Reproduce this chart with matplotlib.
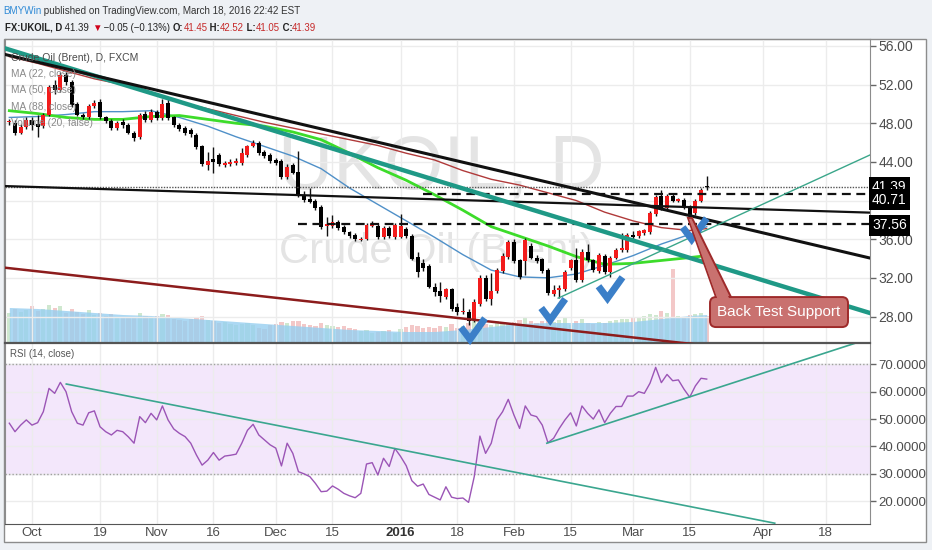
# UKOIL daily chart with MAs, volume, RSI and trend line drawings
import numpy as np
import pandas as pd
import matplotlib
matplotlib.use('Agg')
import matplotlib.pyplot as plt
from matplotlib.patches import Rectangle, FancyBboxPatch, Polygon
from matplotlib.transforms import IdentityTransform

plt.rcParams['font.family'] = ['Liberation Sans Narrow', 'Liberation Sans', 'DejaVu Sans']

# trading days on the chart (no bars for Christmas and New Year)
days = pd.bdate_range('2015-09-25', '2016-05-06')
days = days[~days.isin(pd.to_datetime(['2015-12-25', '2016-01-01']))]

# daily candles, Sep 25 2015 .. Mar 18 2016 (one row per week)
opens = [48.1, 48.0, 47.0, 47.6, 48.3, 47.9,
         47.7, 48.9, 52.0, 51.4, 53.0,
         52.3, 50.0, 48.9, 48.6, 49.8,
         50.2, 48.6, 48.2, 47.5, 48.1,
         47.8, 47.0, 46.6, 49.0, 48.3,
         49.2, 48.5, 50.1, 48.6, 47.8,
         47.5, 47.3, 46.8, 45.6, 43.7,
         44.3, 44.7, 43.7, 43.8, 43.9,
         43.9, 44.7, 45.6, 46.0, 45.0,
         44.7, 44.2, 44.1, 42.4, 43.7,
         43.0, 40.6, 40.2, 40.0, 39.3,
         37.4, 37.4, 37.8, 37.3, 36.7,
         36.4, 35.95, 36.0, 37.4,
         37.4, 36.2, 37.2, 36.2,
         36.2, 37.1, 36.3, 34.2, 33.5,
         33.2, 31.1, 30.6, 30.0, 30.8,
         29.0, 28.45, 28.5, 27.6, 29.3,
         32.0, 29.8, 30.6, 32.7, 34.2,
         35.7, 33.8, 33.7, 35.3, 34.1,
         33.9, 32.8, 30.3, 30.7, 30.8,
         33.0, 33.8, 31.8, 34.7, 33.8,
         32.7, 34.3, 32.6, 34.1, 34.85,
         34.9, 36.45, 36.3, 36.6, 36.7,
         38.6, 40.5, 39.2, 40.5, 40.0,
         40.1, 39.3, 38.7, 40.0, 41.45]
highs = [48.4, 48.3, 47.9, 48.6, 48.6, 48.9,
         49.1, 52.0, 52.5, 53.3, 53.3,
         52.5, 50.2, 49.1, 50.0, 50.4,
         50.5, 48.8, 48.4, 48.2, 48.4,
         48.0, 47.2, 49.1, 49.3, 49.5,
         49.4, 50.5, 50.5, 48.8, 48.0,
         47.7, 47.5, 47.0, 45.8, 45.0,
         45.5, 44.9, 44.1, 44.3, 44.4,
         45.4, 45.8, 46.3, 46.2, 45.2,
         44.9, 44.4, 44.3, 43.8, 43.9,
         45.1, 41.0, 41.3, 40.2, 39.5,
         38.3, 38.5, 38.0, 37.5, 36.9,
         36.6, 36.2, 37.7, 37.9,
         37.6, 37.4, 37.4, 37.7,
         38.6, 37.3, 36.5, 34.7, 34.0,
         33.4, 31.5, 31.6, 31.0, 31.0,
         29.4, 29.9, 28.8, 29.8, 32.3,
         32.3, 32.5, 33.0, 34.6, 35.9,
         36.0, 34.0, 36.1, 35.6, 34.4,
         34.1, 33.0, 31.3, 31.3, 32.8,
         34.0, 35.1, 35.0, 35.5, 34.0,
         34.6, 34.5, 34.3, 35.1, 36.6,
         36.6, 36.9, 37.0, 37.1, 38.9,
         40.6, 41.1, 40.7, 40.8, 40.3,
         40.3, 39.5, 40.2, 41.3, 42.52]
lows = [47.8, 46.8, 46.9, 47.4, 47.3, 46.6,
        47.5, 48.7, 51.0, 51.2, 52.0,
        49.7, 48.7, 48.4, 48.4, 49.6,
        48.4, 48.0, 47.3, 47.3, 47.5,
        46.9, 46.2, 46.4, 48.1, 48.1,
        48.3, 48.3, 48.3, 47.6, 47.2,
        46.8, 46.6, 45.3, 43.6, 43.2,
        42.9, 43.6, 43.5, 43.6, 43.7,
        43.7, 44.5, 45.5, 44.7, 44.4,
        43.9, 43.7, 42.2, 42.2, 42.7,
        40.4, 39.9, 39.7, 39.0, 37.1,
        36.3, 37.2, 37.0, 36.5, 36.1,
        35.8, 35.8, 35.9, 37.3,
        36.0, 36.0, 36.1, 36.0,
        36.1, 36.1, 33.8, 32.1, 32.7,
        30.9, 30.1, 29.5, 29.8, 28.6,
        28.2, 28.3, 27.1, 27.4, 29.1,
        29.6, 29.2, 30.4, 32.5, 34.0,
        33.5, 31.9, 32.3, 33.9, 33.5,
        32.5, 30.2, 30.1, 29.9, 30.6,
        32.8, 31.6, 31.6, 33.6, 32.6,
        32.5, 32.4, 32.1, 33.9, 34.7,
        34.7, 35.9, 36.1, 36.4, 36.5,
        38.4, 39.0, 39.0, 39.9, 39.9,
        39.1, 38.3, 38.5, 39.8, 41.05]
closes = [48.2, 47.0, 47.6, 48.3, 47.8, 47.6,
          48.9, 51.8, 51.4, 53.0, 52.3,
          49.9, 48.9, 48.6, 49.8, 50.1,
          48.6, 48.2, 47.5, 48.0, 47.8,
          47.0, 46.5, 48.9, 48.3, 49.2,
          48.5, 50.0, 48.5, 47.8, 47.4,
          47.0, 46.9, 45.5, 43.8, 44.1,
          44.0, 43.8, 43.9, 44.0, 44.1,
          44.9, 45.6, 46.0, 44.9, 44.6,
          44.1, 43.9, 42.4, 43.5, 42.9,
          40.7, 40.1, 39.9, 39.2, 37.3,
          37.6, 37.8, 37.2, 36.7, 36.3,
          36.0, 36.05, 37.5, 37.6,
          36.2, 37.2, 36.3, 37.5,
          37.4, 36.3, 34.0, 32.6, 33.0,
          31.1, 30.5, 30.1, 30.8, 28.8,
          28.5, 28.55, 27.5, 29.5, 32.0,
          29.8, 30.6, 32.8, 34.3, 35.7,
          33.7, 32.1, 35.9, 34.1, 33.7,
          32.7, 30.4, 30.7, 31.0, 32.6,
          33.8, 31.8, 34.7, 33.8, 32.8,
          34.4, 32.6, 34.1, 34.9, 35.05,
          36.4, 36.25, 36.8, 36.95, 38.7,
          40.4, 39.2, 40.5, 40.0, 40.15,
          39.3, 38.5, 40.0, 41.1, 41.39]
volumes = [30, 34, 31, 33, 37, 32,
           34, 38, 35, 37, 30,
           34, 31, 29, 33, 28,
           30, 27, 29, 26, 25,
           26, 25, 30, 27, 26,
           27, 29, 28, 24, 23,
           22, 24, 26, 27, 23,
           22, 20, 21, 19, 18,
           19, 20, 18, 15, 14,
           18, 19, 21, 20, 22,
           22, 19, 18, 17, 20,
           18, 17, 16, 17, 15,
           14, 12, 13, 10,
           11, 12, 13, 10,
           14, 16, 18, 17, 15,
           16, 15, 17, 16, 19,
           15, 17, 20, 22, 21,
           19, 18, 22, 20, 19,
           21, 23, 25, 22, 20,
           22, 24, 21, 23, 25,
           18, 22, 24, 20, 19,
           21, 20, 22, 23, 24,
           24, 25, 26, 27, 29,
           28, 32, 30, 74, 27,
           26, 28, 29, 30, 27]
rsi = [48.5, 45.4, 47.8, 49.7, 47.8, 48.7,
       52.7, 61.2, 59.4, 63.4, 60.0,
       52.7, 48.5, 47.8, 52.3, 53.0,
       47.2, 45.4, 44.2, 45.9, 45.4,
       43.5, 41.2, 50.9, 48.7, 52.1,
       49.7, 54.8, 49.7, 46.4, 44.8,
       43.6, 41.2, 36.9, 33.2, 35.0,
       37.8, 35.0, 36.5, 36.8, 37.2,
       41.2, 45.9, 48.1, 44.2, 42.4,
       40.6, 39.4, 32.9, 41.2, 37.5,
       30.8, 30.0, 29.0, 26.5, 23.5,
       23.7, 25.6, 24.4, 22.9, 22.0,
       21.3, 22.9, 33.6, 34.1,
       29.6, 35.7, 32.7, 39.3,
       36.4, 33.0, 27.5, 25.5, 26.3,
       22.5, 21.5, 20.5, 25.3, 21.5,
       21.0, 21.2, 19.6, 29.0, 43.8,
       37.5, 41.2, 49.7, 52.7, 57.2,
       51.5, 46.6, 54.8, 51.5, 50.9,
       47.8, 41.4, 43.0, 46.6, 49.7,
       52.3, 47.5, 54.8, 52.1, 50.0,
       53.4, 48.7, 52.1, 54.6, 54.6,
       58.4, 58.4, 60.0, 59.4, 63.1,
       68.9, 63.3, 66.3, 64.0, 64.3,
       60.9, 58.0, 62.1, 64.9, 64.6]

# moving averages read every 5 bars
ma_pos = [0, 5, 10, 15, 20, 25, 30, 35, 40, 45, 50, 55, 60, 65, 70, 75, 80, 85,
          90, 95, 100, 105, 110, 115, 120, 123]
ma22 = [48.6, 48.7, 48.9, 49.2, 49.2, 49.3, 48.6, 47.7, 46.6, 45.6, 44.6, 43.3, 41.3,
        39.6, 37.9, 36.2, 34.4, 32.8, 32.1, 32.0, 32.4, 33.3, 34.3, 35.5, 36.5, 37.3]
ma50 = [49.3, 49.0, 48.6, 48.4, 48.4, 48.7, 48.8, 48.4, 48.0, 47.7, 47.1, 46.3, 44.9,
        43.4, 42.1, 40.6, 39.0, 37.3, 36.3, 35.3, 34.2, 33.4, 33.5, 33.8, 34.1, 34.3]
ma88 = [54.9, 54.2, 53.4, 52.6, 52.0, 51.2, 50.2, 49.5, 48.8, 48.1, 47.5, 46.9, 46.3,
        45.7, 44.9, 44.2, 43.1, 42.2, 41.6, 40.8, 40.0, 38.8, 37.9, 37.2, 36.9, 37.1]
vol_ma = [35, 34, 32, 30, 28, 27, 25, 23, 21, 19, 17, 15, 13, 12, 11, 11, 13, 16,
          19, 20, 20, 20, 21, 24, 27, 28]

# drawn trend lines: (bar positions), (prices)
black_top = ([-0.76, 151.8], [55.12, 34.05])
teal_top = ([-0.76, 151.8], [55.75, 28.36])
black_flat = ([-0.76, 151.8], [41.5, 38.75])
red_low = ([-0.76, 130.0], [33.05, 24.53])
teal_up = ([96.8, 151.8], [29.9, 44.72])
rsi_down = ([10.05, 135.0], [62.8, 12.0])
rsi_up = ([94.8, 149.2], [41.2, 77.7])
last_price, level_hi, level_lo = 41.39, 40.71, 37.56
level_hi_start, level_lo_start = 73, 51

check_pos = [81.25, 95.4, 105.5, 120.35]
check_price = [25.64, 27.64, 29.89, 35.99]
callout_tip = (119.7, 38.2)
callout_center = (135.75, 28.46)

tick_dates = ['2015-10-01', '2015-10-19', '2015-11-02', '2015-11-16', '2015-12-01',
              '2015-12-15', '2016-01-04', '2016-01-18', '2016-02-01', '2016-02-15',
              '2016-03-01', '2016-03-15', '2016-04-01', '2016-04-18']
tick_labels = ['Oct', '19', 'Nov', '16', 'Dec', '15', '2016', '18', 'Feb', '15',
               'Mar', '15', 'Apr', '18']
price_ticks = [28, 32, 36, 40, 44, 48, 52, 56]
rsi_ticks = [20, 30, 40, 50, 60, 70]

assert len(opens) == len(highs) == len(lows) == len(closes) == len(volumes) == len(rsi) == 124

o = np.array(opens); h = np.array(highs); l = np.array(lows); c = np.array(closes)
pos = np.arange(len(o))
tick_pos = [days.get_loc(pd.Timestamp(d)) for d in tick_dates]

W, H = 932, 550
def fx(px):
    return px / W
def fy(py):
    return 1 - py / H

fig = plt.figure(figsize=(9.32, 5.5), dpi=100)
fig.patch.set_facecolor('#eef1f5')
fig.add_artist(Rectangle((fx(4), fy(542)), fx(926) - fx(4), fy(39) - fy(542),
                         transform=fig.transFigure, fc='white', ec='#8c8c8c', lw=1, zorder=-10))

ax_p = fig.add_axes([fx(5), fy(342.5), fx(870) - fx(5), fy(39) - fy(342.5)])
ax_v = ax_p.twinx()
ax_r = fig.add_axes([fx(5), fy(524), fx(870) - fx(5), fy(343.5) - fy(524)])
ax_p.set_zorder(2)
ax_v.set_zorder(1)
ax_p.patch.set_visible(False)

xlim = (-0.76, 151.8)
ax_p.set_xlim(*xlim)
ax_p.set_ylim(25.31, 56.72)
ax_r.set_xlim(*xlim)
ax_r.set_ylim(11.71, 77.59)

# volume
ax_v.set_ylim(0, 303.5)
ax_v.set_axis_off()
vol_col = np.where(c >= o, '#cfe8cf', '#f3c8c8')
ax_v.bar(pos, volumes, width=0.75, color=vol_col, lw=0)
ax_v.fill_between(ma_pos, 0, vol_ma, color='#97cff0', alpha=0.8, lw=0)

# grid / axes styling
for ax in (ax_p, ax_r):
    ax.set_xticks(tick_pos)
    ax.grid(color='#ececec', lw=1)
    ax.set_axisbelow(True)
    ax.yaxis.tick_right()
    for s in ax.spines.values():
        s.set_color('#8c8c8c')
    ax.tick_params(axis='y', colors='#666666', labelcolor='#4d4d4d',
                   length=4, width=1, pad=2)
ax_p.tick_params(axis='y', labelsize=10)
ax_r.tick_params(axis='y', labelsize=9.5)
ax_p.spines['bottom'].set_color('#555555')
ax_p.spines['bottom'].set_linewidth(1.6)
ax_r.spines['top'].set_visible(False)
ax_r.spines['bottom'].set_color('#555555')
ax_p.tick_params(axis='x', length=0, labelbottom=False)
ax_p.set_yticks(price_ticks)
# the 40.00 label is fully under the 40.71 marker on the chart
ax_p.set_yticklabels(['' if t == 40 else f'{t:.2f}' for t in price_ticks])
ax_r.set_yticks(rsi_ticks)
ax_r.set_yticklabels([f'{t:.4f}' for t in rsi_ticks])
ax_r.set_xticklabels(tick_labels)
ax_r.tick_params(axis='x', length=0, pad=2, labelsize=9.5, labelcolor='#4d4d4d')
lab = ax_r.get_xticklabels()[tick_labels.index('2016')]
lab.set_fontweight('bold')
lab.set_color('#333333')

# watermark
ax_p.text(0.504, 0.509, 'UKOIL, D', transform=ax_p.transAxes, fontsize=55,
          color='#e4e4e4', ha='center', va='baseline', zorder=0)
ax_p.text(0.499, 0.262, 'Crude Oil (Brent)', transform=ax_p.transAxes, fontsize=30,
          color='#e4e4e4', ha='center', va='baseline', zorder=0)

# moving averages
ax_p.plot(ma_pos, ma88, color='#b03a3a', lw=1, zorder=2)
ax_p.plot(ma_pos, ma22, color='#4f90c8', lw=1, zorder=2)
ax_p.plot(ma_pos, ma50, color='#3ddc2a', lw=2, zorder=2)

# candles: red = up, black = down
up = c >= o
ax_p.vlines(pos, l, h, color='#111111', lw=1, zorder=3)
body = np.maximum(np.abs(c - o), 0.1)
ax_p.bar(pos, body, bottom=np.minimum(o, c), width=0.7,
         color=np.where(up, '#f21c1c', '#000000'), lw=0, zorder=4)

# horizontal levels
ax_p.axhline(last_price, color='#555555', lw=1, ls=(0, (1, 1)), zorder=5)
ax_p.plot([level_hi_start, xlim[1]], [level_hi, level_hi], color='#111111', lw=1.6,
          ls=(0, (4, 2.5)), zorder=5)
ax_p.plot([level_lo_start, xlim[1]], [level_lo, level_lo], color='#111111', lw=1.6,
          ls=(0, (4, 2.5)), zorder=5)

# trend lines
ax_p.plot(*red_low, color='#8c1c1c', lw=1.8, zorder=5)
ax_p.plot(*black_flat, color='#111111', lw=1.6, zorder=5)
ax_p.plot(*teal_top, color='#1f9986', lw=3.2, zorder=5)
ax_p.plot(*black_top, color='#111111', lw=2.2, zorder=5)
ax_p.plot(*teal_up, color='#3aa68a', lw=1, zorder=5)

# check marks
def shift(ax, x, y, dx, dy):
    X, Y = ax.transData.transform((x, y))
    return ax.transData.inverted().transform((X + dx, Y + dy))

arms = [(-9, 12), (0, 0), (15, 21)]
for cx, cy in zip(check_pos, check_price):
    pts = np.array([shift(ax_p, cx, cy, dx, dy) for dx, dy in arms])
    ax_p.plot(pts[:, 0], pts[:, 1], color='#3b7fc8', lw=5, solid_capstyle='butt',
              solid_joinstyle='miter', zorder=7, clip_on=False)

# callout "Back Test Support"
bx, by = ax_p.transData.transform(callout_center)
tx, ty = ax_p.transData.transform(callout_tip)
bw, bh = 138, 30
x0, y0 = bx - bw / 2, by - bh / 2
face, edge = '#c9716f', '#9e2a2a'
tail = [(tx, ty), (tx + 4, ty), (x0 + 21, y0 + bh), (x0 + 6, y0 + bh)]
ax_p.add_patch(Polygon(tail, closed=True, fc=face, ec=edge, lw=1.4,
                       transform=IdentityTransform(), zorder=8, clip_on=False))
ax_p.add_patch(FancyBboxPatch((x0, y0), bw, bh, boxstyle='round,pad=0,rounding_size=6',
                              fc=face, ec=edge, lw=1.4, transform=IdentityTransform(),
                              zorder=8, clip_on=False))
cover = [(tx + 1, ty - 1), (tx + 3, ty - 1), (x0 + 19.5, y0 + bh - 2), (x0 + 7.5, y0 + bh - 2)]
ax_p.add_patch(Polygon(cover, closed=True, fc=face, ec='none',
                       transform=IdentityTransform(), zorder=8.5, clip_on=False))
ax_p.text(callout_center[0], callout_center[1], 'Back Test Support', color='white',
          fontsize=11, ha='center', va='center', zorder=9)

# price markers on the axis
for val, dy in [(last_price, 0), (level_hi, -6), (level_lo, -1)]:
    ax_p.annotate(f'{val:.2f}', xy=(1, val), xycoords=('axes fraction', 'data'),
                  xytext=(2, dy), textcoords='offset pixels', color='white', fontsize=10,
                  ha='left', va='center', annotation_clip=False, zorder=10,
                  bbox=dict(boxstyle='square,pad=0.25', fc='black', ec='none'))

# RSI panel
ax_r.axhspan(30, 70, color='#f3e7fb', zorder=0)
for lvl in (30, 70):
    ax_r.axhline(lvl, color='#a0a0a0', lw=1, ls=(0, (1, 1.5)), zorder=1)
ax_r.plot(pos, rsi, color='#9b55b6', lw=1, zorder=3)
ax_r.plot(*rsi_down, color='#3aa68f', lw=1.2, zorder=4)
ax_r.plot(*rsi_up, color='#3aa68f', lw=1.2, zorder=4)

# indicator legends
fig.text(fx(11), fy(58), 'Crude Oil (Brent), D, FXCM', fontsize=7.5, color='#4a4a4a', va='center')
for txt, py in [('MA (22, close)', 74), ('MA (50, close)', 90), ('MA (88, close)', 107),
                ('Volume (20, false)', 123)]:
    fig.text(fx(11), fy(py), txt, fontsize=7.3, color='#8a8a8a', va='center')
fig.text(fx(10), fy(354), 'RSI (14, close)', fontsize=7, color='#555555', va='center')

# header lines
def text_run(px, py, parts, size):
    s, col, w = parts[0]
    t = fig.text(fx(px), fy(py), s, color=col, fontweight=w, fontsize=size, va='center')
    for s, col, w in parts[1:]:
        t = ax_p.annotate(s, xy=(1, 0), xycoords=t, color=col, fontweight=w,
                          fontsize=size, va='bottom', ha='left', annotation_clip=False)

text_run(3, 11, [('BMYWin', '#2f8ad6', 'normal'),
                 (' published on TradingView.com, March 18, 2016 22:42 EST', '#333333', 'normal')], 7.1)
red = '#c62828'
text_run(5, 28, [('FX:UKOIL, D', '#222222', 'bold'), (' 41.39 ', '#222222', 'normal'),
                 ('\u25bc', '#d0021b', 'normal'), (' \u22120.05 (\u22120.13%) ', '#222222', 'normal'),
                 ('O:', '#222222', 'bold'), ('41.45', red, 'normal'),
                 (' H:', '#222222', 'bold'), ('42.52', red, 'normal'),
                 (' L:', '#222222', 'bold'), ('41.05', red, 'normal'),
                 (' C:', '#222222', 'bold'), ('41.39', red, 'normal')], 6.9)

fig.savefig('out.png', dpi=100, facecolor=fig.get_facecolor())
